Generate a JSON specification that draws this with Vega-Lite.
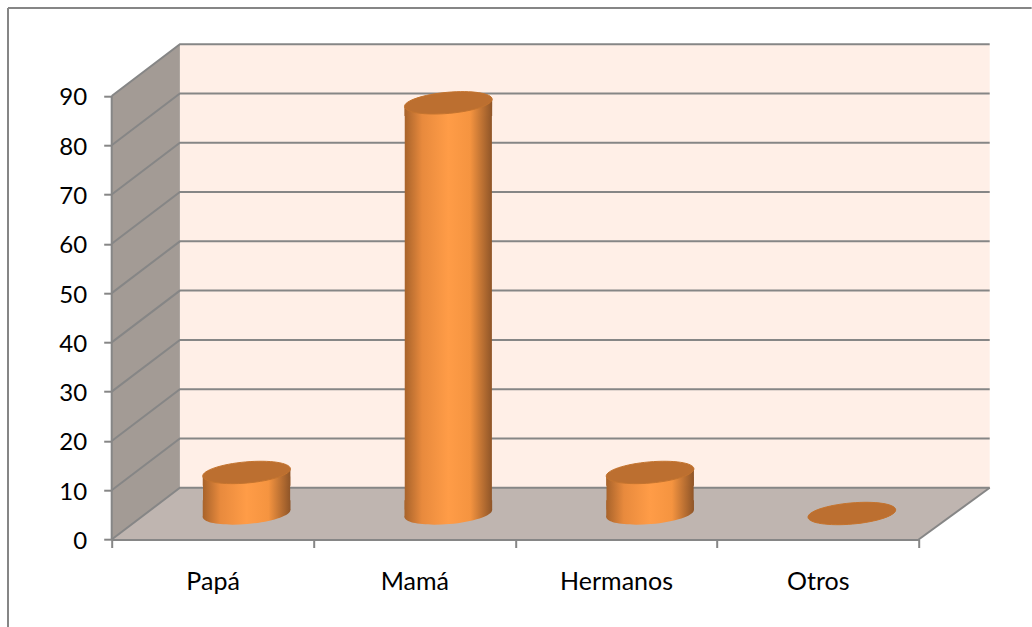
{
"$schema":"https://vega.github.io/schema/vega-lite/v6.json",
"width":878,"height":495.3,
"autosize":{"type":"none"},
"padding":{"left":111.7,"top":44.2,"right":42.3,"bottom":87.5},
"background":"white",
"view":{"stroke":null},
"config":{"axis":{"labelFont":"Lato","labelFontSize":24,"labelColor":"#000000","tickColor":"#868686","domainColor":"#868686","tickWidth":2,"domainWidth":2,"grid":false}},
"datasets":{
"datos":[{"categoria":"Papá","valor":8.33},{"categoria":"Mamá","valor":83.33},{"categoria":"Hermanos","valor":8.33},{"categoria":"Otros","valor":0}],
"paredes":[
{"pieza":"fondo","px":0.338,"py":10.5,"py2":100.5},{"pieza":"fondo","px":4.352,"py":10.5,"py2":100.5},
{"pieza":"lateral","px":0,"py":0,"py2":90},{"pieza":"lateral","px":0.338,"py":10.5,"py2":100.5},
{"pieza":"piso","px":0,"py":0,"py2":0},{"pieza":"piso","px":0.338,"py":0,"py2":10.5},{"pieza":"piso","px":4,"py":0,"py2":10.5},{"pieza":"piso","px":4.352,"py":10.5,"py2":10.5}],
"lineas":[
{"t":"g0","px":0,"py":0},{"t":"g0","px":0.338,"py":10.5},{"t":"g0","px":4.352,"py":10.5},
{"t":"g10","px":0,"py":10},{"t":"g10","px":0.338,"py":20.5},{"t":"g10","px":4.352,"py":20.5},
{"t":"g20","px":0,"py":20},{"t":"g20","px":0.338,"py":30.5},{"t":"g20","px":4.352,"py":30.5},
{"t":"g30","px":0,"py":30},{"t":"g30","px":0.338,"py":40.5},{"t":"g30","px":4.352,"py":40.5},
{"t":"g40","px":0,"py":40},{"t":"g40","px":0.338,"py":50.5},{"t":"g40","px":4.352,"py":50.5},
{"t":"g50","px":0,"py":50},{"t":"g50","px":0.338,"py":60.5},{"t":"g50","px":4.352,"py":60.5},
{"t":"g60","px":0,"py":60},{"t":"g60","px":0.338,"py":70.5},{"t":"g60","px":4.352,"py":70.5},
{"t":"g70","px":0,"py":70},{"t":"g70","px":0.338,"py":80.5},{"t":"g70","px":4.352,"py":80.5},
{"t":"g80","px":0,"py":80},{"t":"g80","px":0.338,"py":90.5},{"t":"g80","px":4.352,"py":90.5},
{"t":"g90","px":0,"py":90},{"t":"g90","px":0.338,"py":100.5},{"t":"g90","px":4.352,"py":100.5},
{"t":"eje","px":0,"py":0},{"t":"eje","px":0,"py":90},
{"t":"borde","px":4,"py":0},{"t":"borde","px":4.352,"py":10.5},
{"t":"marcoIzq","px":-0.514,"py":-18},{"t":"marcoIzq","px":-0.514,"py":107.85},
{"t":"marcoSup","px":-0.514,"py":107.85},{"t":"marcoSup","px":4.56,"py":107.85}]
},
"layer":[
{"data":{"name":"paredes"},"mark":{"type":"area","line":false,"clip":false},
"encoding":{
"x":{"field":"px","type":"quantitative","scale":{"domain":[0,4.352],"nice":false,"zero":false},"axis":null},
"y":{"field":"py","type":"quantitative","stack":null,"scale":{"domain":[0,100.5],"nice":false},"axis":{"values":[0,10,20,30,40,50,60,70,80,90],"title":null,"domain":false,"tickSize":8,"labelPadding":17,"labelOffset":2}},
"y2":{"field":"py2"},
"color":{"field":"pieza","type":"nominal","legend":null,"scale":{"domain":["fondo","lateral","piso"],"range":["#FFEFE7","#A39B95","#BFB5B0"]}}}},
{"data":{"name":"lineas"},"mark":{"type":"line","color":"#868686","strokeWidth":2,"clip":false},
"encoding":{
"x":{"field":"px","type":"quantitative","scale":{"domain":[0,4.352],"nice":false,"zero":false},"axis":null},
"y":{"field":"py","type":"quantitative","scale":{"domain":[0,100.5],"nice":false},"axis":{"values":[0,10,20,30,40,50,60,70,80,90],"title":null,"domain":false,"tickSize":8,"labelPadding":17,"labelOffset":2}},
"detail":{"field":"t"}}},
{"data":{"name":"datos"},"mark":{"type":"point","filled":true,"opacity":1,"shape":"M 0.9962,-0.0872 C 1.0078,0.0449 0.5711,0.1909 0.0209,0.2391 C -0.5293,0.2873 -0.9846,0.2193 -0.9962,0.0872 C -1.0078,-0.0449 -0.5711,-0.1909 -0.0209,-0.2391 C 0.5293,-0.2873 0.9846,-0.2193 0.9962,-0.0872 Z","size":7744,"xOffset":34,"yOffset":-26,"fill":{"x1":0,"x2":1,"y1":0,"y2":0,"gradient":"linear","stops":[{"offset":0,"color":"#A8632B"},{"offset":0.2,"color":"#E88A3D"},{"offset":0.5,"color":"#FF9C47"},{"offset":0.75,"color":"#F59440"},{"offset":1,"color":"#8F5528"}]}},
"encoding":{
"x":{"field":"categoria","type":"nominal","sort":null,"scale":{"domain":["Papá","Mamá","Hermanos","Otros"],"range":[0,807],"paddingInner":0,"paddingOuter":0},"axis":{"title":null,"labelAngle":0,"tickBand":"extent","tickSize":8,"labelPadding":22,"labelFontSize":25,"zindex":1}},
"y":{"datum":0,"type":"quantitative","scale":{"domain":[0,100.5],"nice":false},"axis":{"values":[0,10,20,30,40,50,60,70,80,90],"title":null,"domain":false,"tickSize":8,"labelPadding":17,"labelOffset":2}}}},
{"data":{"name":"datos"},"transform":[{"filter":"datum.valor > 0"}],"mark":{"type":"bar","width":{"band":0.432},"xOffset":34,"yOffset":-22,"y2Offset":-30,"color":{"x1":0,"x2":1,"y1":0,"y2":0,"gradient":"linear","stops":[{"offset":0,"color":"#A8632B"},{"offset":0.2,"color":"#E88A3D"},{"offset":0.5,"color":"#FF9C47"},{"offset":0.75,"color":"#F59440"},{"offset":1,"color":"#8F5528"}]}},
"encoding":{
"x":{"field":"categoria","type":"nominal","sort":null,"scale":{"domain":["Papá","Mamá","Hermanos","Otros"],"range":[0,807],"paddingInner":0,"paddingOuter":0},"axis":null},
"y":{"field":"valor","type":"quantitative","stack":null,"scale":{"domain":[0,100.5],"nice":false},"axis":{"values":[0,10,20,30,40,50,60,70,80,90],"title":null,"domain":false,"tickSize":8,"labelPadding":17,"labelOffset":2}},
"y2":{"datum":0}}},
{"data":{"name":"datos"},"transform":[{"filter":"datum.valor > 0"}],"mark":{"type":"point","filled":true,"opacity":1,"shape":"M -0.9962,0.0872 L 0.9962,-0.0872 L 0.9962,0.3 L -0.9962,0.3 Z","size":7744,"xOffset":34,"yOffset":-26,"fill":{"x1":0,"x2":1,"y1":0,"y2":0,"gradient":"linear","stops":[{"offset":0,"color":"#A8632B"},{"offset":0.2,"color":"#E88A3D"},{"offset":0.5,"color":"#FF9C47"},{"offset":0.75,"color":"#F59440"},{"offset":1,"color":"#8F5528"}]}},
"encoding":{
"x":{"field":"categoria","type":"nominal","sort":null,"scale":{"domain":["Papá","Mamá","Hermanos","Otros"],"range":[0,807],"paddingInner":0,"paddingOuter":0},"axis":null},
"y":{"field":"valor","type":"quantitative","scale":{"domain":[0,100.5],"nice":false},"axis":{"values":[0,10,20,30,40,50,60,70,80,90],"title":null,"domain":false,"tickSize":8,"labelPadding":17,"labelOffset":2}}}},
{"data":{"name":"datos"},"transform":[{"filter":"datum.valor > 0"}],"mark":{"type":"point","filled":true,"opacity":1,"shape":"M -0.9962,0.0872 L 0.9962,-0.0872 L 0.9962,-0.3 L -0.9962,-0.3 Z","size":7744,"xOffset":34,"yOffset":-26,"fill":{"x1":0,"x2":1,"y1":0,"y2":0,"gradient":"linear","stops":[{"offset":0,"color":"#A8632B"},{"offset":0.2,"color":"#E88A3D"},{"offset":0.5,"color":"#FF9C47"},{"offset":0.75,"color":"#F59440"},{"offset":1,"color":"#8F5528"}]}},
"encoding":{
"x":{"field":"categoria","type":"nominal","sort":null,"scale":{"domain":["Papá","Mamá","Hermanos","Otros"],"range":[0,807],"paddingInner":0,"paddingOuter":0},"axis":null},
"y":{"datum":0,"type":"quantitative","scale":{"domain":[0,100.5],"nice":false},"axis":{"values":[0,10,20,30,40,50,60,70,80,90],"title":null,"domain":false,"tickSize":8,"labelPadding":17,"labelOffset":2}}}},
{"data":{"name":"datos"},"mark":{"type":"point","filled":true,"opacity":1,"color":"#BC6F30","stroke":"#C4742F","strokeWidth":1,"shape":"M 0.9962,-0.0872 C 1.0078,0.0449 0.5711,0.1909 0.0209,0.2391 C -0.5293,0.2873 -0.9846,0.2193 -0.9962,0.0872 C -1.0078,-0.0449 -0.5711,-0.1909 -0.0209,-0.2391 C 0.5293,-0.2873 0.9846,-0.2193 0.9962,-0.0872 Z","size":7744,"xOffset":34,"yOffset":-26},
"encoding":{
"x":{"field":"categoria","type":"nominal","sort":null,"scale":{"domain":["Papá","Mamá","Hermanos","Otros"],"range":[0,807],"paddingInner":0,"paddingOuter":0},"axis":null},
"y":{"field":"valor","type":"quantitative","scale":{"domain":[0,100.5],"nice":false},"axis":{"values":[0,10,20,30,40,50,60,70,80,90],"title":null,"domain":false,"tickSize":8,"labelPadding":17,"labelOffset":2}}}}
],
"resolve":{"scale":{"x":"independent"}}
}
